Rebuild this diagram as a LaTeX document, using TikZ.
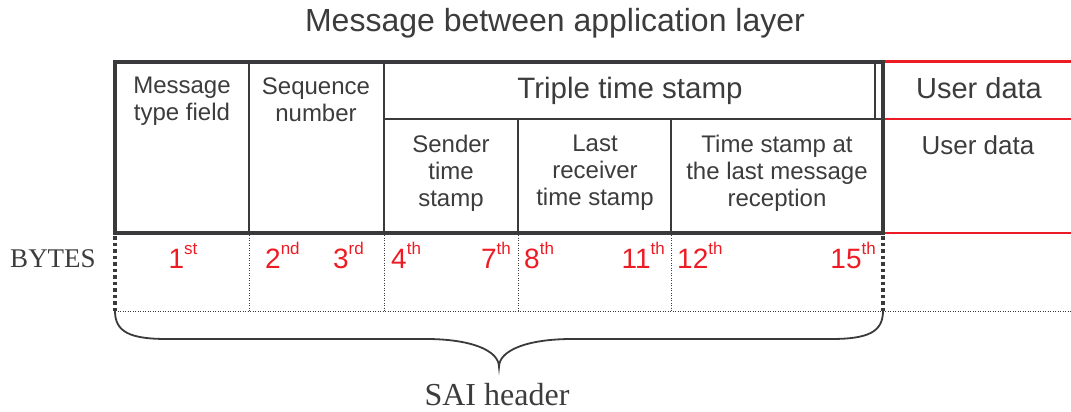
\documentclass[tikz,border=0pt]{standalone}
\usepackage{fontspec}
\setmainfont{Liberation Sans}
\newfontfamily\serifrm{Liberation Serif}
\definecolor{ink}{HTML}{3A3A3C}
\definecolor{txt}{HTML}{3C3C3C}
\definecolor{redc}{HTML}{ED1C24}
\newcommand\ordl[2]{#1\raisebox{13.5pt}{\fontsize{17}{17}\selectfont #2}}
\begin{document}
\begin{tikzpicture}[x=1pt,y=-1pt,
  outer/.style={draw=ink,line width=3.5pt},
  divider/.style={draw=ink,line width=2pt},
  hdivider/.style={draw=ink,line width=2.5pt},
  fine/.style={draw=ink,line width=1.4pt},
  redline/.style={draw=redc},
  bigdots/.style={draw=ink,line width=3.5pt,dash pattern=on 3.5pt off 3pt},
  smalldots/.style={draw=ink,line width=0.9pt,dash pattern=on 1pt off 1.5pt},
  cell/.style={anchor=north,inner sep=0pt,align=center,text=txt,font={\fontsize{24}{27}\selectfont}},
  byte/.style={anchor=base,inner sep=0pt,text=redc,font={\fontsize{28}{28}\selectfont}},
  brace/.style={draw=ink,line width=1.8pt}]
\useasboundingbox (0,0) rectangle (1071,412);

% title
\node[anchor=base,inner sep=0pt,text=txt,font={\fontsize{32}{32}\selectfont}] (title) at (555,32) {Message between application layer};

% grid coordinates
\coordinate (tl) at (115,62);
\coordinate (br) at (883,233);

% outer frame and dividers
\draw[outer] (tl) rectangle (br);
\draw[divider] (249,62) -- (249,233);
\draw[divider] (384,62) -- (384,233);
\draw[hdivider] (384,119) -- (883,119);
\draw[fine] (518,119) -- (518,233);
\draw[fine] (671,119) -- (671,233);
\draw[fine] (875,62) -- (875,119);

% red user data frame
\draw[redline,line width=3pt] (885,62) -- (1071,62);
\draw[redline,line width=2.5pt] (885,119) -- (1071,119);
\draw[redline,line width=2pt] (885,233) -- (1071,233);

% byte row
\draw[bigdots] (115,236) -- (115,311);
\draw[bigdots] (883,236) -- (883,311);
\draw[smalldots] (249,235) -- (249,311);
\draw[smalldots] (384,235) -- (384,311);
\draw[smalldots] (518,235) -- (518,311);
\draw[smalldots] (671,235) -- (671,311);
\draw[smalldots] (115,311) -- (1071,311);

% cell texts
\node[cell] (mtype) at (182,77) {Message\\type field};
\node[cell] (seq) at (316,78) {Sequence\\number};
\node[cell,font={\fontsize{29.5}{29.5}\selectfont}] (triple) at (630,77) {Triple time stamp};
\node[cell,font={\fontsize{29}{29}\selectfont}] (ud1) at (979,77) {User data};
\node[cell,font={\fontsize{26}{26}\selectfont}] (ud2) at (978,135) {User data};
\node[cell] (sender) at (451,135) {Sender\\time\\stamp};
\node[cell] (last) at (595,135) {Last\\receiver\\time stamp};
\node[cell] (tslast) at (777,135) {Time stamp at\\the last message\\reception};

% byte labels
\node[byte] (b1) at (183,268) {\ordl{1}{st}};
\node[byte,anchor=base west] (b2) at (265,268) {\ordl{2}{nd}};
\node[byte,anchor=base east] (b3) at (364,268) {\ordl{3}{rd}};
\node[byte,anchor=base west] (b4) at (391,268) {\ordl{4}{th}};
\node[byte,anchor=base east] (b7) at (511,268) {\ordl{7}{th}};
\node[byte,anchor=base west] (b8) at (524,268) {\ordl{8}{th}};
\node[byte,anchor=base east] (b11) at (665,268) {\ordl{11}{th}};
\node[byte,anchor=base west] (b12) at (677,268) {\ordl{12}{th}};
\node[byte,anchor=base east] (b15) at (876,268) {\ordl{15}{th}};

\node[anchor=base,inner sep=0pt,text=txt,font={\serifrm\fontsize{27}{27}\selectfont}] (bytes) at (53,267) {BYTES};

% brace
\draw[brace] (115,311) .. controls (115,332) and (130,339) .. (167,339) -- (426,339)
  .. controls (470,339) and (499,350) .. (499,367)
  .. controls (499,350) and (528,339) .. (572,339) -- (831,339)
  .. controls (868,339) and (883,332) .. (883,311);
\coordinate (tip) at (499,367);
\node[anchor=base,inner sep=0pt,text=txt,font={\serifrm\fontsize{32}{32}\selectfont}] (sai) at (497,405) {SAI header};
\end{tikzpicture}
\end{document}
